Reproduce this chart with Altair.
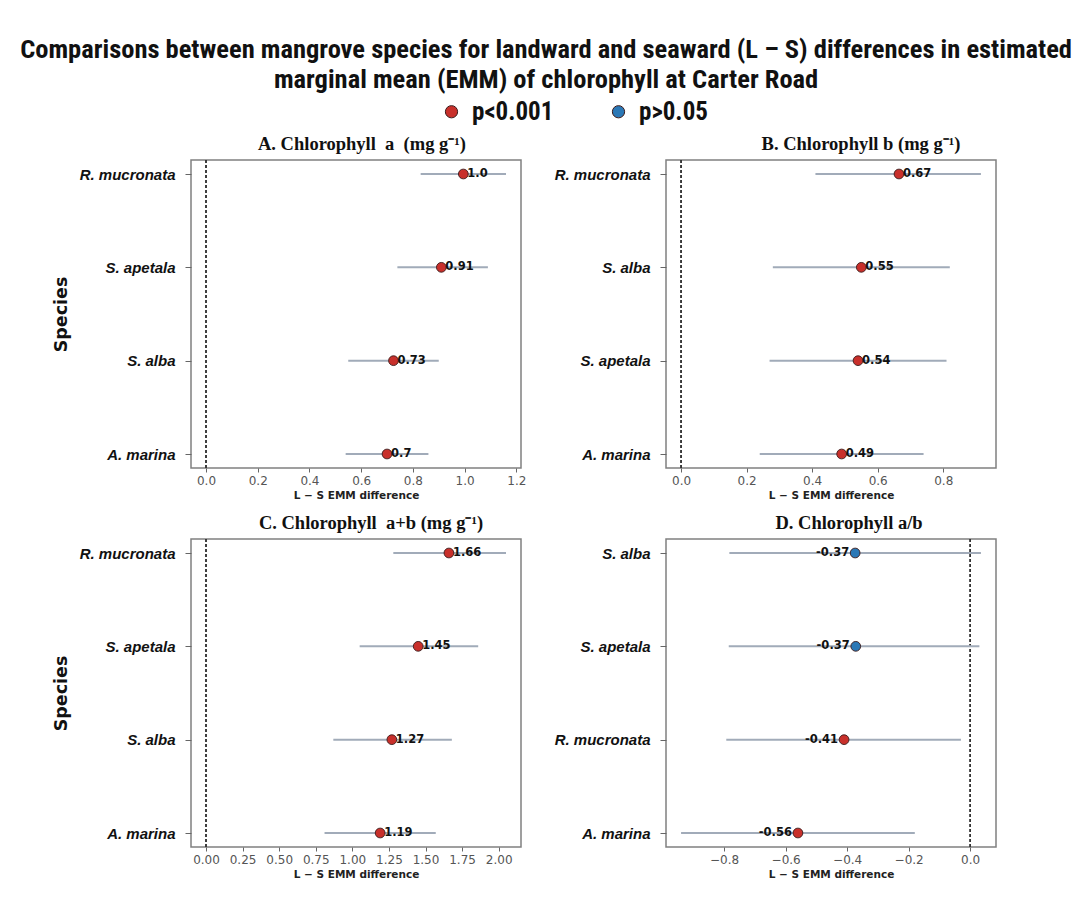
import altair as alt
import pandas as pd

# ---------------- data (top to bottom order in each panel) ----------------
species_A = ["R. mucronata", "S. apetala", "S. alba", "A. marina"]
emm_A = [0.995, 0.91, 0.725, 0.70]
lo_A = [0.83, 0.74, 0.55, 0.54]
hi_A = [1.16, 1.09, 0.90, 0.86]
lab_A = ["1.0", "0.91", "0.73", "0.7"]
sig_A = ["p<0.001", "p<0.001", "p<0.001", "p<0.001"]

species_B = ["R. mucronata", "S. alba", "S. apetala", "A. marina"]
emm_B = [0.665, 0.55, 0.54, 0.49]
lo_B = [0.41, 0.28, 0.27, 0.24]
hi_B = [0.915, 0.82, 0.81, 0.74]
lab_B = ["0.67", "0.55", "0.54", "0.49"]
sig_B = ["p<0.001", "p<0.001", "p<0.001", "p<0.001"]

species_C = ["R. mucronata", "S. apetala", "S. alba", "A. marina"]
emm_C = [1.66, 1.45, 1.27, 1.19]
lo_C = [1.28, 1.05, 0.87, 0.81]
hi_C = [2.05, 1.86, 1.68, 1.57]
lab_C = ["1.66", "1.45", "1.27", "1.19"]
sig_C = ["p<0.001", "p<0.001", "p<0.001", "p<0.001"]

species_D = ["S. alba", "S. apetala", "R. mucronata", "A. marina"]
emm_D = [-0.374, -0.372, -0.41, -0.56]
lo_D = [-0.783, -0.785, -0.793, -0.94]
hi_D = [0.035, 0.03, -0.03, -0.18]
lab_D = ["-0.37", "-0.37", "-0.41", "-0.56"]
sig_D = ["p>0.05", "p>0.05", "p<0.001", "p<0.001"]

sig_levels = ["p<0.001", "p>0.05"]
sig_colors = ["#c8302b", "#2b78b6"]

ticks_A = [0.0, 0.2, 0.4, 0.6, 0.8, 1.0, 1.2]
ticks_B = [0.0, 0.2, 0.4, 0.6, 0.8]
ticks_C = [0.0, 0.25, 0.5, 0.75, 1.0, 1.25, 1.5, 1.75, 2.0]
ticks_D = [-0.8, -0.6, -0.4, -0.2, 0.0]

SANS = "DejaVu Sans"
LABEL_FONT = "Liberation Sans"
SERIF = "Liberation Serif"
NARROW = "Liberation Sans Narrow, Roboto Condensed, DejaVu Sans Condensed, sans-serif"
NB = "\u00a0"

PW, PH = 330, 308


def panel(species, emm, lo, hi, labels, sig, title, title_dx, domain, ticks,
          fmt, show_ytitle, text_left):
    df = pd.DataFrame({"species": species, "emm": emm, "lo": lo, "hi": hi,
                       "label": labels, "sig": sig})
    yaxis_kw = dict(labelFont=LABEL_FONT, labelFontStyle="italic",
                    labelFontWeight="bold", labelFontSize=15,
                    labelColor="#111", tickColor="#666", tickSize=6,
                    labelPadding=10, domain=False)
    if show_ytitle:
        yaxis_kw.update(title="Species", titleFont=SANS, titleFontSize=17.5,
                        titleFontWeight="bold", titleColor="#111",
                        titlePadding=9)
    else:
        yaxis_kw.update(title=None)
    y = alt.Y("species:N", sort=species,
              scale=alt.Scale(type="point", padding=0.15),
              axis=alt.Axis(**yaxis_kw))
    xscale = alt.Scale(domain=domain, nice=False, zero=False)
    x = alt.X("emm:Q", scale=xscale,
              axis=alt.Axis(values=ticks, format=fmt, grid=False, domain=False,
                            labelFont=SANS, labelFontSize=12, labelColor="#555",
                            tickColor="#666", tickSize=4, labelPadding=3,
                            title="L − S EMM difference", titleFont=SANS,
                            titleFontSize=10.5, titleFontWeight="bold",
                            titleColor="#222", titlePadding=4))
    base = alt.Chart(df)
    zero = base.mark_rule(color="#333", strokeDash=[3, 2], strokeWidth=1).encode(
        x=alt.datum(0))
    ci = base.mark_rule(color="#a1abb9", strokeWidth=2).encode(
        x=alt.X("lo:Q", scale=xscale), x2="hi:Q", y=y)
    pts = base.mark_circle(size=95, opacity=1, stroke="#3a1a1a",
                           strokeWidth=0.9).encode(
        x=x, y=y,
        color=alt.Color("sig:N",
                        scale=alt.Scale(domain=sig_levels, range=sig_colors),
                        legend=alt.Legend(title=None, orient="none",
                                          direction="horizontal",
                                          legendX=248, legendY=-61,
                                          labelFont=NARROW, labelFontSize=25,
                                          labelFontWeight="bold",
                                          labelColor="#111",
                                          symbolSize=150, symbolType="circle",
                                          symbolStrokeColor="#3a1a1a",
                                          symbolStrokeWidth=1,
                                          columnPadding=52, labelOffset=8)))
    if text_left:
        txt = base.mark_text(align="right", dx=-6, fontWeight="bold",
                             fontSize=11.5, font=SANS, color="#111").encode(
            x="emm:Q", y=y, text="label:N")
    else:
        txt = base.mark_text(align="left", dx=4, fontWeight="bold",
                             fontSize=11.5, font=SANS, color="#111").encode(
            x="emm:Q", y=y, text="label:N")
    return alt.layer(zero, ci, pts, txt).properties(
        width=PW, height=PH,
        title=alt.TitleParams(title, font=SERIF, fontSize=18.5,
                              fontWeight="bold", color="#111", offset=6,
                              dx=title_dx))


pA = panel(species_A, emm_A, lo_A, hi_A, lab_A, sig_A,
           f"A. Chlorophyll{NB} a {NB}(mg g⁻¹)", 6, [-0.058, 1.218], ticks_A,
           ".1f", True, False)
pB = panel(species_B, emm_B, lo_B, hi_B, lab_B, sig_B,
           "B. Chlorophyll b (mg g⁻¹)", 30, [-0.046, 0.961], ticks_B, ".1f",
           False, False)
pC = panel(species_C, emm_C, lo_C, hi_C, lab_C, sig_C,
           f"C. Chlorophyll{NB} a+b (mg g⁻¹)", 15, [-0.1025, 2.1525], ticks_C,
           ".2f", True, False)
pD = panel(species_D, emm_D, lo_D, hi_D, lab_D, sig_D,
           "D. Chlorophyll a/b", 18, [-0.989, 0.084], ticks_D, ".1f",
           False, True)

chart = alt.concat(pA, pB, pC, pD, columns=2, bounds="flush",
                   spacing={"column": 145, "row": 71}).properties(
    title=alt.TitleParams(
        ["Comparisons between mangrove species for landward and seaward (L – S) differences in estimated",
         "marginal mean (EMM) of chlorophyll at Carter Road"],
        font=NARROW, fontSize=26.5, fontWeight="bold", color="#111",
        anchor="middle", lineHeight=30, offset=6, dx=22),
    padding={"left": 20, "top": 36, "right": 3, "bottom": 5},
    background="white",
).configure_view(stroke="#808080", strokeWidth=1.5)

chart.save("out.html", embed_options={"renderer": "svg", "actions": False})
